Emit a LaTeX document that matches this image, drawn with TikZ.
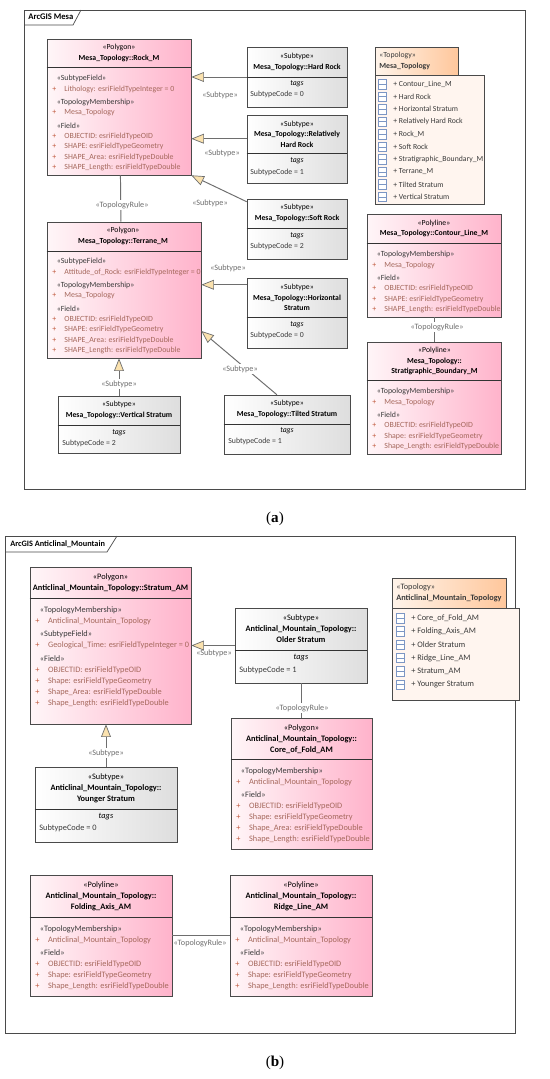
\documentclass[tikz,border=0pt]{standalone}
\usepackage{fontspec}
\setmainfont{Carlito}
\newfontfamily\capfont{Liberation Serif}
\usetikzlibrary{arrows.meta,calc,fit,shadows}
\definecolor{UMLLine}{HTML}{4A4A4A}
\definecolor{UMLEdge}{HTML}{6E6E6E}
\definecolor{UMLField}{HTML}{A5685C}
\definecolor{UMLPlus}{HTML}{C0583C}
\definecolor{UMLText}{HTML}{3A3A3A}
\definecolor{UMLTip}{HTML}{FBE2AE}
\definecolor{UMLIcon}{HTML}{7C96C4}
\definecolor{UMLPinkL}{HTML}{FFF6F8}
\definecolor{UMLPinkR}{HTML}{FFB3CB}
\definecolor{UMLTabL}{HTML}{FFF4EA}
\definecolor{UMLTabR}{HTML}{FFC79C}
\definecolor{UMLList}{HTML}{FFF5EF}
\tikzset{
  umlbox/.style={draw=UMLLine,line width=0.35pt,inner sep=0pt,
    drop shadow={shadow xshift=0.7pt,shadow yshift=-0.7pt,opacity=0.35,fill=black}},
  pinkbox/.style={umlbox,left color=UMLPinkL,right color=UMLPinkR},
  greybox/.style={umlbox,left color=white,right color=black!13},
  tabbox/.style={umlbox,left color=UMLTabL,right color=UMLTabR},
  listbox/.style={umlbox,fill=UMLList},
  framebox/.style={draw=UMLLine,line width=0.4pt,inner sep=0pt},
  divider/.style={draw=black!80,line width=0.3pt},
  head/.style={align=center,inner sep=0pt,font=\fontsize{4.4}{5.9}\selectfont,text=black},
  headb/.style={head,font=\fontsize{4.75}{6.2}\selectfont},
  body/.style={anchor=north west,align=left,inner sep=0pt,text=UMLText,font=\fontsize{4.48}{5.9}\selectfont},
  bodyb/.style={body,font=\fontsize{4.72}{6.2}\selectfont},
  code/.style={anchor=west,inner sep=0pt,text=UMLText,font=\fontsize{4.43}{6}\selectfont},
  codeb/.style={code,font=\fontsize{4.75}{6}\selectfont},
  edgelab/.style={inner sep=0pt,text=UMLEdge,font=\fontsize{4.65}{6}\selectfont},
  labfill/.style={edgelab,fill=white,inner sep=1pt},
  listitem/.style={anchor=west,inner sep=0pt,text=UMLText,font=\fontsize{4.4}{6}\selectfont},
  listitemb/.style={listitem,font=\fontsize{4.75}{6}\selectfont},
  icon/.style={draw=UMLIcon,line width=0.25pt,fill=white,minimum width=4.6pt,minimum height=5.4pt,inner sep=0pt},
  gener/.style={draw=UMLEdge,line width=0.55pt,-{Triangle[length=7.2pt,width=5.6pt,fill=UMLTip,line width=0.4pt]}},
  plainedge/.style={draw=UMLEdge,line width=0.55pt},
}
% one attribute line and one stereotype line of a compartment
\newcommand{\fld}[1]{\makebox[1.54em][l]{\textcolor{UMLPlus}{+}}\textcolor{UMLField}{#1}}
\newcommand{\ster}[1]{\hspace*{0.56em}#1}
\newcommand{\gap}{\\[1.65pt]}
\begin{document}
\begin{tikzpicture}[x=0.02cm,y=-0.02cm]
\useasboundingbox[fill=white] (0,0) rectangle (550,1079);

%% (a)
\node[framebox,fit={(24,10) (525,489)}] (frameA) {};
\draw[framebox] (24,25) -- (73,25) -- (81,10);
\node[anchor=west,inner sep=0pt,font=\fontsize{4.9}{6}\selectfont\bfseries] (frameAtitle) at (28,17) {ArcGIS Mesa};

\node[pinkbox,fit={(47,39) (191,175)}] (rock) {};
\node[pinkbox,fit={(47,222) (201,358)}] (terrane) {};
\node[greybox,fit={(247,47) (347,107)}] (hard) {};
\node[greybox,fit={(247,115) (347,183)}] (relhard) {};
\node[greybox,fit={(247,199) (347,259)}] (soft) {};
\node[greybox,fit={(247,278) (347,348)}] (horiz) {};
\node[greybox,fit={(58,396) (180,453)}] (vert) {};
\node[greybox,fit={(224,395) (350,454)}] (tilted) {};
\node[pinkbox,fit={(367,214) (501,317)}] (contour) {};
\node[pinkbox,fit={(367,342) (501,454)}] (strat) {};

\draw[divider] (rock.west |- 0,67) -- (rock.east |- 0,67);
\draw[divider] (terrane.west |- 0,251) -- (terrane.east |- 0,251);
\draw[divider] (hard.west |- 0,77) -- (hard.east |- 0,77);
\draw[divider] (relhard.west |- 0,153) -- (relhard.east |- 0,153);
\draw[divider] (soft.west |- 0,228) -- (soft.east |- 0,228);
\draw[divider] (horiz.west |- 0,317) -- (horiz.east |- 0,317);
\draw[divider] (vert.west |- 0,425) -- (vert.east |- 0,425);
\draw[divider] (tilted.west |- 0,424) -- (tilted.east |- 0,424);
\draw[divider] (contour.west |- 0,243) -- (contour.east |- 0,243);
\draw[divider] (strat.west |- 0,380) -- (strat.east |- 0,380);

\node[head] (rockhead) at (119,53) {«Polygon»\\\textbf{Mesa\_Topology::Rock\_M}};
\node[body] (rockbody) at (52,75) {\ster{«SubtypeField»}\\\fld{Lithology: esriFieldTypeInteger = 0}\gap\ster{«TopologyMembership»}\\\fld{Mesa\_Topology}\gap\ster{«Field»}\\\fld{OBJECTID: esriFieldTypeOID}\\\fld{SHAPE: esriFieldTypeGeometry}\\\fld{SHAPE\_Area: esriFieldTypeDouble}\\\fld{SHAPE\_Length: esriFieldTypeDouble}};
\node[head] (terranehead) at (123,236) {«Polygon»\\\textbf{Mesa\_Topology::Terrane\_M}};
\node[body] (terranebody) at (52,258) {\ster{«SubtypeField»}\\\fld{Attitude\_of\_Rock: esriFieldTypeInteger = 0}\gap\ster{«TopologyMembership»}\\\fld{Mesa\_Topology}\gap\ster{«Field»}\\\fld{OBJECTID: esriFieldTypeOID}\\\fld{SHAPE: esriFieldTypeGeometry}\\\fld{SHAPE\_Area: esriFieldTypeDouble}\\\fld{SHAPE\_Length: esriFieldTypeDouble}};

\node[head] (hardhead) at (297,62) {«Subtype»\\\textbf{Mesa\_Topology::Hard Rock}};
\node[head] (hardtags) at (297,84) {\textit{tags}};
\node[code] (hardcode) at (250,94) {SubtypeCode = 0};
\node[head] (relhardhead) at (297,134) {«Subtype»\\\textbf{Mesa\_Topology::Relatively}\\\textbf{Hard Rock}};
\node[head] (relhardtags) at (297,161) {\textit{tags}};
\node[code] (relhardcode) at (250,172) {SubtypeCode = 1};
\node[head] (softhead) at (297,213) {«Subtype»\\\textbf{Mesa\_Topology::Soft Rock}};
\node[head] (softtags) at (297,236) {\textit{tags}};
\node[code] (softcode) at (250,246) {SubtypeCode = 2};
\node[head] (horizhead) at (297,297.5) {«Subtype»\\\textbf{Mesa\_Topology::Horizontal}\\\textbf{Stratum}};
\node[head] (horiztags) at (297,325) {\textit{tags}};
\node[code] (horizcode) at (250,335) {SubtypeCode = 0};
\node[head] (verthead) at (119,410) {«Subtype»\\\textbf{Mesa\_Topology::Vertical Stratum}};
\node[head] (verttags) at (119,433) {\textit{tags}};
\node[code] (vertcode) at (62,443) {SubtypeCode = 2};
\node[head] (tiltedhead) at (287,409) {«Subtype»\\\textbf{Mesa\_Topology::Tilted Stratum}};
\node[head] (tiltedtags) at (287,431) {\textit{tags}};
\node[code] (tiltedcode) at (228,441.5) {SubtypeCode = 1};

\node[head] (contourhead) at (434,228.5) {«Polyline»\\\textbf{Mesa\_Topology::Contour\_Line\_M}};
\node[body] (contourbody) at (372,251) {\ster{«TopologyMembership»}\\\fld{Mesa\_Topology}\gap\ster{«Field»}\\\fld{OBJECTID: esriFieldTypeOID}\\\fld{SHAPE: esriFieldTypeGeometry}\\\fld{SHAPE\_Length: esriFieldTypeDouble}};
\node[head] (strathead) at (434.5,361) {«Polyline»\\\textbf{Mesa\_Topology::}\\\textbf{Stratigraphic\_Boundary\_M}};
\node[body] (stratbody) at (372,388) {\ster{«TopologyMembership»}\\\fld{Mesa\_Topology}\gap\ster{«Field»}\\\fld{OBJECTID: esriFieldTypeOID}\\\fld{Shape: esriFieldTypeGeometry}\\\fld{Shape\_Length: esriFieldTypeDouble}};

\draw[gener] (hard.west) -- (hard.west -| rock.east);
\draw[gener] ($(relhard.north west)!0.35!(relhard.south west)$) -- (rock.east |- {$(relhard.north west)!0.35!(relhard.south west)$});
\draw[gener] ($(soft.north west)!0.05!(soft.south west)$) -- (rock.south east);
\draw[gener] ($(horiz.north west)!0.10!(horiz.south west)$) -- (terrane.east |- {$(horiz.north west)!0.10!(horiz.south west)$});
\draw[gener] ($(tilted.north west)!0.42!(tilted.north east)$) -- ($(terrane.north east)!0.80!(terrane.south east)$);
\draw[gener] (vert.north) -- (vert.north |- terrane.south);
\draw[plainedge] ($(rock.south west)!0.51!(rock.south east)$) -- ($(terrane.north west)!0.48!(terrane.north east)$);
\draw[plainedge] (contour.south) -- (strat.north);
\node[edgelab] (sublab1) at (220,95) {«Subtype»};
\node[edgelab] (sublab2) at (222,153) {«Subtype»};
\node[edgelab] (sublab3) at (210,203) {«Subtype»};
\node[edgelab] (sublab4) at (228,268) {«Subtype»};
\node[labfill] (sublab5) at (240,369) {«Subtype»};
\node[labfill] (sublab6) at (119,384) {«Subtype»};
\node[labfill] (rulelab1) at (122,205) {«TopologyRule»};
\node[labfill] (rulelab2) at (437,327) {«TopologyRule»};

\node[tabbox,fit={(375,47) (458,75)}] (topotabA) {};
\node[listbox,fit={(375,75) (484,204)}] (topolistA) {};
\node[anchor=west,align=left,inner sep=0pt,text=UMLText,font=\fontsize{4.43}{6.3}\selectfont] (topoheadA) at (379,61) {«Topology»\\\textbf{Mesa\_Topology}};
\foreach \t [count=\i] in {Contour\_Line\_M,Hard Rock,Horizontal Stratum,Relatively Hard Rock,Rock\_M,Soft Rock,Stratigraphic\_Boundary\_M,Terrane\_M,Tilted Stratum,Vertical Stratum}{
  \node[icon] (iconA\i) at (382.5,{84+(\i-1)*12.55}) {};
  \draw[UMLIcon,line width=0.2pt] (iconA\i.west) -- (iconA\i.east);
  \node[listitem] (itemA\i) at (393,{84+(\i-1)*12.55}) {+ \t};
}

%% (b)
\node[framebox,fit={(5,536) (515,1033)}] (frameB) {};
\draw[framebox] (5,552) -- (107,552) -- (117,536);
\node[anchor=west,inner sep=0pt,font=\fontsize{4.7}{6}\selectfont\bfseries] (frameBtitle) at (10,544) {ArcGIS Anticlinal\_Mountain};

\node[pinkbox,fit={(30,567) (191,724)}] (stratum) {};
\node[greybox,fit={(235,608) (367,683)}] (older) {};
\node[pinkbox,fit={(231,718) (372,849)}] (core) {};
\node[greybox,fit={(35,767) (177,842)}] (younger) {};
\node[pinkbox,fit={(30,875) (172,996)}] (folding) {};
\node[pinkbox,fit={(230,875) (372,996)}] (ridge) {};

\draw[divider] (stratum.west |- 0,598) -- (stratum.east |- 0,598);
\draw[divider] (older.west |- 0,650) -- (older.east |- 0,650);
\draw[divider] (core.west |- 0,759) -- (core.east |- 0,759);
\draw[divider] (younger.west |- 0,809) -- (younger.east |- 0,809);
\draw[divider] (folding.west |- 0,917) -- (folding.east |- 0,917);
\draw[divider] (ridge.west |- 0,917) -- (ridge.east |- 0,917);

\node[headb] (stratumhead) at (110.5,583) {«Polygon»\\\textbf{Anticlinal\_Mountain\_Topology::Stratum\_AM}};
\node[bodyb] (stratumbody) at (35,606) {\ster{«TopologyMembership»}\\\fld{Anticlinal\_Mountain\_Topology}\gap\ster{«SubtypeField»}\\\fld{Geological\_Time: esriFieldTypeInteger = 0}\gap\ster{«Field»}\\\fld{OBJECTID: esriFieldTypeOID}\\\fld{Shape: esriFieldTypeGeometry}\\\fld{Shape\_Area: esriFieldTypeDouble}\\\fld{Shape\_Length: esriFieldTypeDouble}};
\node[headb] (olderhead) at (301,629) {«Subtype»\\\textbf{Anticlinal\_Mountain\_Topology::}\\\textbf{Older Stratum}};
\node[headb] (oldertags) at (301,658) {\textit{tags}};
\node[codeb] (oldercode) at (239,670) {SubtypeCode = 1};
\node[headb] (corehead) at (301.5,739) {«Polygon»\\\textbf{Anticlinal\_Mountain\_Topology::}\\\textbf{Core\_of\_Fold\_AM}};
\node[bodyb] (corebody) at (236,767) {\ster{«TopologyMembership»}\\\fld{Anticlinal\_Mountain\_Topology}\gap\ster{«Field»}\\\fld{OBJECTID: esriFieldTypeOID}\\\fld{Shape: esriFieldTypeGeometry}\\\fld{Shape\_Area: esriFieldTypeDouble}\\\fld{Shape\_Length: esriFieldTypeDouble}};
\node[headb] (youngerhead) at (106,788) {«Subtype»\\\textbf{Anticlinal\_Mountain\_Topology::}\\\textbf{Younger Stratum}};
\node[headb] (youngertags) at (106,817) {\textit{tags}};
\node[codeb] (youngercode) at (39,828) {SubtypeCode = 0};
\node[headb] (foldinghead) at (101,896.5) {«Polyline»\\\textbf{Anticlinal\_Mountain\_Topology::}\\\textbf{Folding\_Axis\_AM}};
\node[bodyb] (foldingbody) at (35,925) {\ster{«TopologyMembership»}\\\fld{Anticlinal\_Mountain\_Topology}\gap\ster{«Field»}\\\fld{OBJECTID: esriFieldTypeOID}\\\fld{Shape: esriFieldTypeGeometry}\\\fld{Shape\_Length: esriFieldTypeDouble}};
\node[headb] (ridgehead) at (301,896.5) {«Polyline»\\\textbf{Anticlinal\_Mountain\_Topology::}\\\textbf{Ridge\_Line\_AM}};
\node[bodyb] (ridgebody) at (235,925) {\ster{«TopologyMembership»}\\\fld{Anticlinal\_Mountain\_Topology}\gap\ster{«Field»}\\\fld{OBJECTID: esriFieldTypeOID}\\\fld{Shape: esriFieldTypeGeometry}\\\fld{Shape\_Length: esriFieldTypeDouble}};

\draw[gener] (older.west) -- (older.west -| stratum.east);
\draw[gener] (younger.north) -- (younger.north |- stratum.south);
\draw[plainedge] (core.north) -- (core.north |- older.south);
\draw[plainedge] (folding.east) -- (ridge.west);
\node[edgelab] (sublab7) at (214,653) {«Subtype»};
\node[labfill] (sublab8) at (106,753) {«Subtype»};
\node[labfill] (rulelab3) at (302,708) {«TopologyRule»};
\node[edgelab] (rulelab4) at (200,943) {«TopologyRule»};

\node[tabbox,fit={(392,578) (506,608)}] (topotabB) {};
\node[listbox,fit={(392,608) (519,700)}] (topolistB) {};
\node[anchor=west,align=left,inner sep=0pt,text=UMLText,font=\fontsize{4.7}{6.4}\selectfont] (topoheadB) at (396,593) {«Topology»\\\textbf{Anticlinal\_Mountain\_Topology}};
\foreach \t [count=\i] in {Core\_of\_Fold\_AM,Folding\_Axis\_AM,Older Stratum,Ridge\_Line\_AM,Stratum\_AM,Younger Stratum}{
  \node[icon] (iconB\i) at (400.5,{618+(\i-1)*13.3}) {};
  \draw[UMLIcon,line width=0.2pt] (iconB\i.west) -- (iconB\i.east);
  \node[listitemb] (itemB\i) at (411,{618+(\i-1)*13.3}) {+ \t};
}

%% captions
\node[inner sep=0pt,font=\capfont\fontsize{8.6}{10}\selectfont] (capA) at (275,519) {(\textbf{a})};
\node[inner sep=0pt,font=\capfont\fontsize{8.6}{10}\selectfont] (capB) at (275,1063) {(\textbf{b})};
\end{tikzpicture}
\end{document}
